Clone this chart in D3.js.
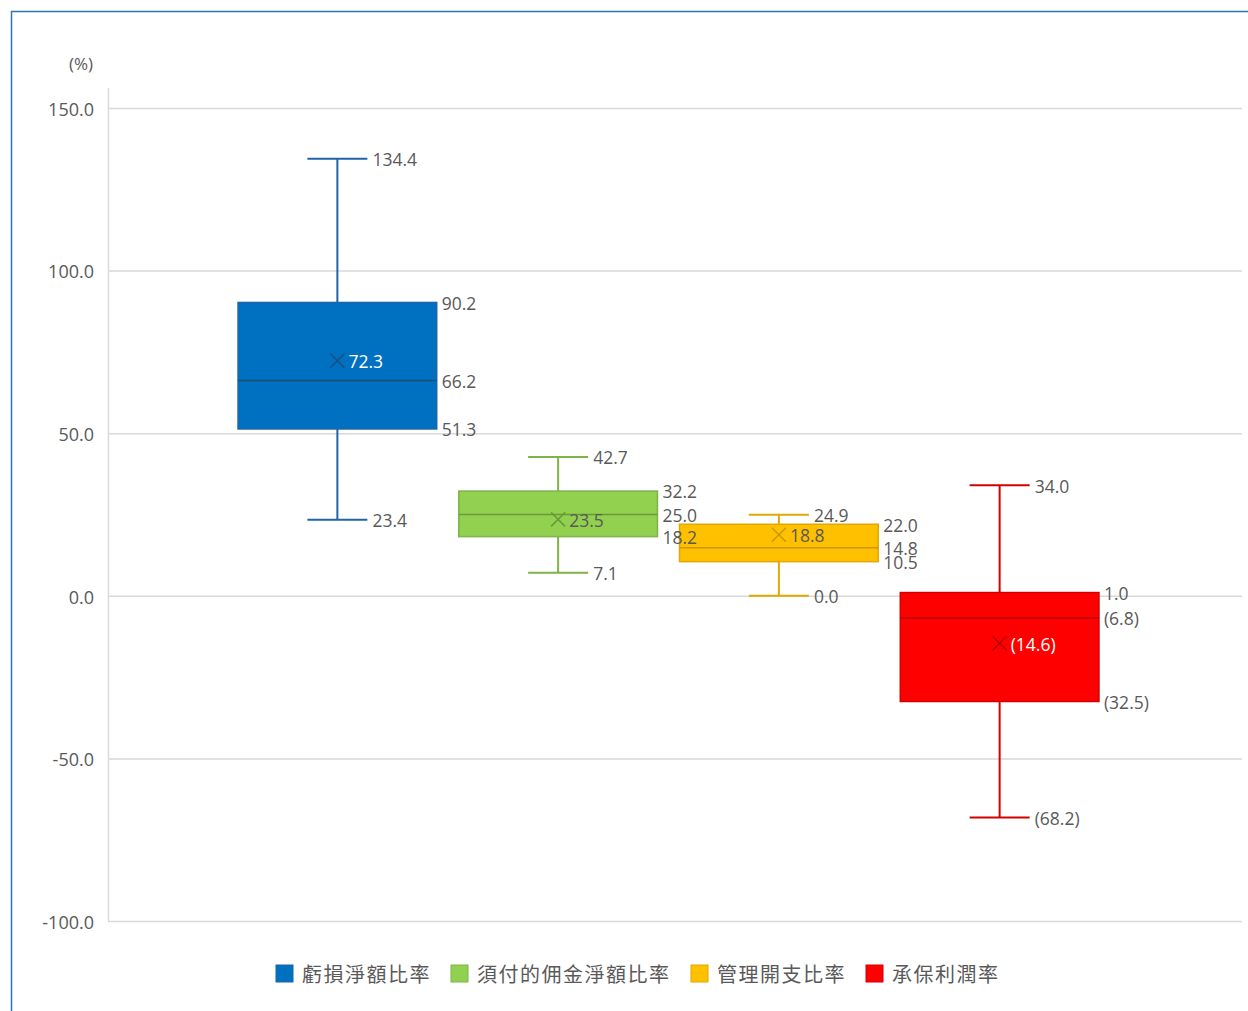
<!DOCTYPE html>
<html>
<head>
<meta charset="utf-8">
<script src="https://cdn.jsdelivr.net/npm/d3@7"></script>
<style>
  body { margin: 0; background: #fff; }
  text { font-family: "Open Sans", "Noto Sans CJK TC", sans-serif; }
</style>
</head>
<body>
<div id="chart"></div>
<script>
// series (one box each)
const seriesNames = ["虧損淨額比率", "須付的佣金淨額比率", "管理開支比率", "承保利潤率"];
const minValues = [23.4, 7.1, 0.0, -68.2];
const q1Values = [51.3, 18.2, 10.5, -32.5];
const medianValues = [66.2, 25.0, 14.8, -6.8];
const q3Values = [90.2, 32.2, 22.0, 1.0];
const maxValues = [134.4, 42.7, 24.9, 34.0];
const meanValues = [72.3, 23.5, 18.8, -14.6];
const yTicks = [-100, -50, 0, 50, 100, 150];

const fills = ["#0070c0", "#92d050", "#ffc000", "#ff0000"];
const strokes = ["#1f64a8", "#7db347", "#e0a800", "#d40000"];
const meanColors = ["#1f4e79", "#6a9a3a", "#c99700", "#b00000"];
const meanLabelColors = ["#ffffff", "#595959", "#595959", "#ffffff"];

const width = 1248, height = 1011;
const plot = { left: 108, right: 1242, top: 108, bottom: 921 };

const f1 = v => v.toFixed(1);
const fmt = v => v < 0 ? "(" + f1(-v) + ")" : f1(v);

const svg = d3.select("#chart").append("svg")
  .attr("width", width).attr("height", height);

// outer frame
svg.append("rect")
  .attr("x", 11.5).attr("y", 11.5)
  .attr("width", width + 20).attr("height", height + 20)
  .attr("fill", "none").attr("stroke", "#2e75b6").attr("stroke-width", 1.5);

const y = d3.scaleLinear().domain([-100, 150]).range([plot.bottom, plot.top]);
const x = d3.scaleBand().domain(seriesNames).range([227, 1110])
  .paddingInner(0.1).paddingOuter(0.05);

// grid
svg.append("g").selectAll("line").data(yTicks).enter().append("line")
  .attr("x1", plot.left).attr("x2", plot.right)
  .attr("y1", d => y(d) + 0.5).attr("y2", d => y(d) + 0.5)
  .attr("stroke", "#d9d9d9").attr("stroke-width", 1.5);

svg.append("line")
  .attr("x1", plot.left + 0.5).attr("x2", plot.left + 0.5)
  .attr("y1", 88).attr("y2", plot.bottom)
  .attr("stroke", "#d9d9d9").attr("stroke-width", 1.5);

// y axis labels (hyphen minus, like the original)
const yAxis = d3.axisLeft(y).tickValues(yTicks).tickFormat(f1).tickSize(0).tickPadding(14);
const ya = svg.append("g").attr("transform", `translate(${plot.left},0)`).call(yAxis);
ya.select(".domain").remove();
ya.selectAll("text").attr("fill", "#595959").attr("dy", "0.4em").style("font-size", "18px")
  .style("font-family", "'Open Sans', sans-serif");

svg.append("text").attr("x", 93).attr("y", 70).attr("text-anchor", "end")
  .attr("fill", "#595959").style("font-size", "17px").text("(%)");

const data = seriesNames.map((name, i) => ({
  name, i,
  min: minValues[i], q1: q1Values[i], med: medianValues[i],
  q3: q3Values[i], max: maxValues[i], mean: meanValues[i]
}));

const bw = x.bandwidth();
const capHalf = 30;

const g = svg.append("g").selectAll("g").data(data).enter().append("g");

// whiskers
g.append("line")
  .attr("x1", d => x(d.name) + bw / 2).attr("x2", d => x(d.name) + bw / 2)
  .attr("y1", d => y(d.max)).attr("y2", d => y(d.q3))
  .attr("stroke", d => strokes[d.i]).attr("stroke-width", 2);
g.append("line")
  .attr("x1", d => x(d.name) + bw / 2).attr("x2", d => x(d.name) + bw / 2)
  .attr("y1", d => y(d.q1)).attr("y2", d => y(d.min))
  .attr("stroke", d => strokes[d.i]).attr("stroke-width", 2);
["max", "min"].forEach(k => {
  g.append("line")
    .attr("x1", d => x(d.name) + bw / 2 - capHalf).attr("x2", d => x(d.name) + bw / 2 + capHalf)
    .attr("y1", d => y(d[k])).attr("y2", d => y(d[k]))
    .attr("stroke", d => strokes[d.i]).attr("stroke-width", 2);
});

// box
g.append("rect")
  .attr("x", d => x(d.name)).attr("width", bw)
  .attr("y", d => y(d.q3)).attr("height", d => y(d.q1) - y(d.q3))
  .attr("fill", d => fills[d.i]).attr("stroke", d => strokes[d.i]).attr("stroke-width", 1.5);

// median
g.append("line")
  .attr("x1", d => x(d.name)).attr("x2", d => x(d.name) + bw)
  .attr("y1", d => y(d.med)).attr("y2", d => y(d.med))
  .attr("stroke", d => meanColors[d.i]).attr("stroke-width", 1.5);

// mean marker
const ms = 7;
g.append("path")
  .attr("d", d => {
    const cx = x(d.name) + bw / 2, cy = y(d.mean);
    return `M${cx - ms},${cy - ms}L${cx + ms},${cy + ms}M${cx - ms},${cy + ms}L${cx + ms},${cy - ms}`;
  })
  .attr("stroke", d => meanColors[d.i]).attr("stroke-width", 1.5).attr("fill", "none");

// labels go on top of all boxes
const lg2 = svg.append("g").selectAll("g").data(data).enter().append("g");
const lab = (sel, xf, yf, txt, col) => sel.append("text")
  .attr("x", xf).attr("y", yf).attr("dy", "0.42em")
  .attr("fill", col).style("font-size", "17.5px").text(txt);

lab(lg2, d => x(d.name) + bw / 2 + capHalf + 5, d => y(d.max), d => fmt(d.max), "#595959");
lab(lg2, d => x(d.name) + bw / 2 + capHalf + 5, d => y(d.min), d => fmt(d.min), "#595959");
lab(lg2, d => x(d.name) + bw + 5, d => y(d.q3), d => fmt(d.q3), "#595959");
lab(lg2, d => x(d.name) + bw + 5, d => y(d.med), d => fmt(d.med), "#595959");
lab(lg2, d => x(d.name) + bw + 5, d => y(d.q1), d => fmt(d.q1), "#595959");
lab(lg2, d => x(d.name) + bw / 2 + 11, d => y(d.mean), d => fmt(d.mean), d => meanLabelColors[d.i]);

// legend
const legendX = [276, 451, 691, 866];
const lg = svg.append("g").selectAll("g").data(seriesNames).enter().append("g")
  .attr("transform", (d, i) => `translate(${legendX[i]},965)`);
lg.append("rect").attr("width", 17).attr("height", 17)
  .attr("fill", (d, i) => fills[i]).attr("stroke", (d, i) => strokes[i]);
lg.append("text").attr("x", 26).attr("y", 9).attr("dy", "0.38em")
  .attr("fill", "#595959").style("font-size", "20px").style("letter-spacing", "1.5px")
  .style("font-family", "'Noto Sans CJK TC', sans-serif").text(d => d);
</script>
</body>
</html>
